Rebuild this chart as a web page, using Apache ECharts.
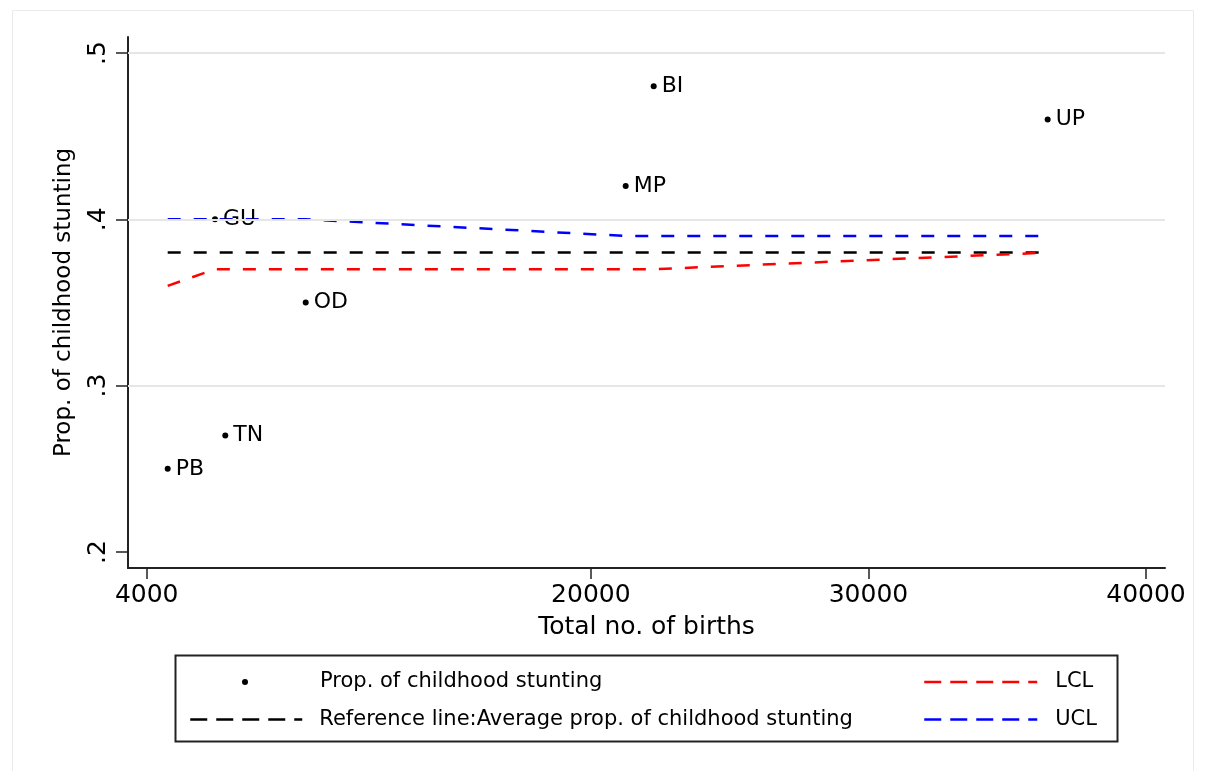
<!DOCTYPE html>
<html>
<head>
<meta charset="utf-8">
<script src="https://cdn.jsdelivr.net/npm/echarts@6/dist/echarts.min.js"></script>
<style>
html,body{margin:0;padding:0;background:#fff;}
#chart{width:1205px;height:771px;}
</style>
</head>
<body>
<div id="chart"></div>
<script>
// ---- data ----
const states   = ['PB', 'GU', 'TN', 'OD', 'MP', 'BI', 'UP'];
const births   = [4756, 6460, 6831, 9728, 21255, 22264, 36457];
const stunting = [0.25, 0.40, 0.27, 0.35, 0.42, 0.48, 0.46];
const lcl      = [0.36, 0.37, 0.37, 0.37, 0.37, 0.37, 0.38];
const ucl      = [0.40, 0.40, 0.40, 0.40, 0.39, 0.39, 0.39];
const avgProp  = [0.38, 0.38, 0.38, 0.38, 0.38, 0.38, 0.38];
const xTicks   = [4000, 20000, 30000, 40000];
const yTicks   = [0.2, 0.3, 0.4, 0.5];
const yGrid    = [0.3, 0.4, 0.5];

const FONT = 'DejaVu Sans';
const pts = births.map((b, i) => [b, stunting[i], states[i]]);
const pair = arr => births.map((b, i) => [b, arr[i]]);

const chart = echarts.init(document.getElementById('chart'), null, {renderer: 'canvas'});
const dashPlot = [13, 13];
const dashLegend = [17, 9];
const noSym = {color: 'transparent', borderWidth: 0, opacity: 0};

chart.setOption({
  animation: false,
  backgroundColor: '#fff',
  textStyle: {fontFamily: FONT},
  grid: {left: 128, right: 40, top: 37, bottom: 203, containLabel: false},
  xAxis: {
    type: 'value', min: 3326, max: 40684,
    axisLine: {show: true, onZero: false, lineStyle: {color: '#222', width: 2}},
    axisTick: {show: true, length: 11, lineStyle: {color: '#222', width: 1.5}, customValues: xTicks},
    axisLabel: {customValues: xTicks, color: '#000', fontSize: 25, fontFamily: FONT, margin: 15,
      formatter: v => String(v)},
    splitLine: {show: false},
    name: 'Total no. of births', nameLocation: 'middle', nameGap: 47,
    nameTextStyle: {color: '#000', fontSize: 25, fontFamily: FONT}
  },
  yAxis: {
    type: 'value', min: 0.19037, max: 0.5096,
    axisLine: {show: true, onZero: false, lineStyle: {color: '#222', width: 2}},
    axisTick: {show: true, length: 12, lineStyle: {color: '#222', width: 1.5}, customValues: yTicks},
    axisLabel: {customValues: yTicks, color: '#000', fontSize: 25, fontFamily: FONT, rotate: 90, margin: 17,
      formatter: v => String(v).replace(/^0/, '')},
    splitLine: {show: false},
    name: 'Prop. of childhood stunting', nameLocation: 'middle', nameGap: 52, nameRotate: 90,
    nameTextStyle: {color: '#000', fontSize: 23, fontFamily: FONT}
  },
  legend: [
    {
      data: ['Prop. of childhood stunting'], left: 237, top: 665, orient: 'vertical',
      itemWidth: 6, itemHeight: 6, selectedMode: false,
      textStyle: {color: '#000', fontSize: 21, fontFamily: FONT, lineHeight: 24, padding: [0, 0, 0, 67]}
    },
    {
      data: ['Reference line:Average prop. of childhood stunting'], left: 184, top: 702.5, orient: 'vertical',
      itemWidth: 112, itemHeight: 14, selectedMode: false,
      lineStyle: {type: dashLegend, width: 2.5}, itemStyle: noSym,
      textStyle: {color: '#000', fontSize: 21, fontFamily: FONT, lineHeight: 24, padding: [0, 0, 0, 12]}
    },
    {
      data: ['LCL', 'UCL'], left: 918, top: 665, orient: 'vertical',
      itemWidth: 113, itemHeight: 14, itemGap: 13.5, selectedMode: false,
      lineStyle: {type: dashLegend, width: 2.5}, itemStyle: noSym,
      textStyle: {color: '#000', fontSize: 21, fontFamily: FONT, lineHeight: 24, padding: [0, 0, 0, 13]}
    }
  ],
  graphic: [
    {type: 'rect', z: -10, silent: true, shape: {x: 12.5, y: 10.5, width: 1181, height: 800},
      style: {fill: 'none', stroke: '#ebebeb', lineWidth: 1}},
    {type: 'rect', z: 10, silent: true, shape: {x: 175.5, y: 655.5, width: 942, height: 86},
      style: {fill: 'none', stroke: '#222', lineWidth: 2}}
  ],
  series: [
    {
      name: 'grid', type: 'line', data: [], z: 0, silent: true,
      markLine: {silent: true, symbol: 'none', label: {show: false},
        lineStyle: {color: '#e6e6e6', width: 2, type: 'solid'},
        data: yGrid.map(v => ({yAxis: v}))}
    },
    {
      name: 'Reference line:Average prop. of childhood stunting', type: 'line', data: pair(avgProp),
      symbol: 'none', z: 3, lineStyle: {color: '#000', width: 2.5, type: dashPlot}, itemStyle: {color: '#000'}
    },
    {
      name: 'LCL', type: 'line', data: pair(lcl),
      symbol: 'none', z: 3, lineStyle: {color: '#ff0000', width: 2.5, type: dashPlot}, itemStyle: {color: '#ff0000'}
    },
    {
      name: 'UCL', type: 'line', data: pair(ucl),
      symbol: 'none', z: 3, lineStyle: {color: '#0000ff', width: 2.5, type: dashPlot}, itemStyle: {color: '#0000ff'}
    },
    {
      name: 'Prop. of childhood stunting', type: 'scatter', data: pts, z: 4,
      symbol: 'circle', symbolSize: 6, itemStyle: {color: '#000', opacity: 1},
      label: {show: true, position: 'right', distance: 5, formatter: p => p.data[2],
        color: '#000', opacity: 1, textBorderWidth: 0, fontSize: 22, fontFamily: FONT}
    }
  ]
});
</script>
</body>
</html>
